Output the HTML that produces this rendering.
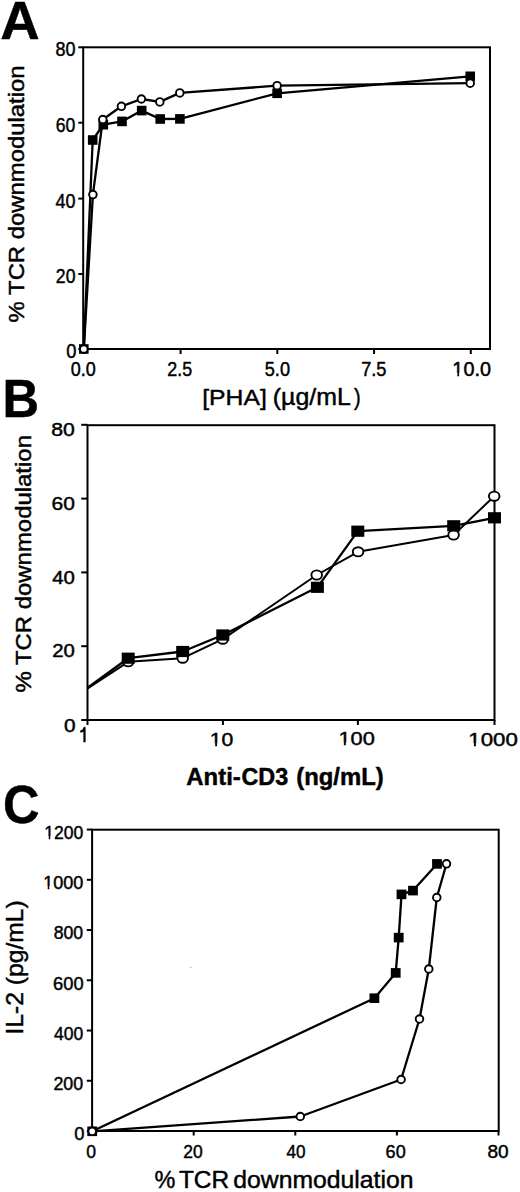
<!DOCTYPE html>
<html><head><meta charset="utf-8"><style>
html,body{margin:0;padding:0;background:#fff;}
body{width:520px;height:1192px;overflow:hidden;}
svg{display:block;}
text{font-family:"Liberation Sans", sans-serif;fill:#000;stroke:#000;stroke-width:0.45px;stroke-linejoin:round;}
</style></head><body>
<svg width="520" height="1192" viewBox="0 0 520 1192" stroke="#000" stroke-linecap="butt">
<rect x="0" y="0" width="520" height="1192" fill="#fff" stroke="none"/>
<rect x="83.20" y="47.30" width="406.80" height="301.70" fill="none" stroke-width="2.0"/>
<line x1="78.30" y1="349.00" x2="83.20" y2="349.00" stroke-width="2.0"/>
<line x1="78.30" y1="274.00" x2="83.20" y2="274.00" stroke-width="2.0"/>
<line x1="78.30" y1="198.60" x2="83.20" y2="198.60" stroke-width="2.0"/>
<line x1="78.30" y1="122.70" x2="83.20" y2="122.70" stroke-width="2.0"/>
<line x1="78.30" y1="47.30" x2="83.20" y2="47.30" stroke-width="2.0"/>
<line x1="83.87" y1="349.00" x2="83.87" y2="354.00" stroke-width="2.0"/>
<line x1="180.59" y1="349.00" x2="180.59" y2="354.00" stroke-width="2.0"/>
<line x1="277.32" y1="349.00" x2="277.32" y2="354.00" stroke-width="2.0"/>
<line x1="374.04" y1="349.00" x2="374.04" y2="354.00" stroke-width="2.0"/>
<line x1="470.77" y1="349.00" x2="470.77" y2="354.00" stroke-width="2.0"/>
<polyline points="83.80,349.00 92.70,140.00 103.30,124.70 122.00,121.40 141.70,110.60 160.20,119.00 179.90,118.90 277.10,93.30 470.20,76.30" fill="none" stroke-width="2.3" stroke-linejoin="round"/>
<polyline points="83.80,349.00 92.90,194.60 102.80,119.50 121.40,106.30 141.40,99.00 159.80,101.90 179.80,92.90 277.10,85.70 470.20,83.20" fill="none" stroke-width="2.3" stroke-linejoin="round"/>
<rect x="79.00" y="344.20" width="9.60" height="9.60" fill="#000" stroke="none"/>
<rect x="87.90" y="135.20" width="9.60" height="9.60" fill="#000" stroke="none"/>
<rect x="98.50" y="119.90" width="9.60" height="9.60" fill="#000" stroke="none"/>
<rect x="117.20" y="116.60" width="9.60" height="9.60" fill="#000" stroke="none"/>
<rect x="136.90" y="105.80" width="9.60" height="9.60" fill="#000" stroke="none"/>
<rect x="155.40" y="114.20" width="9.60" height="9.60" fill="#000" stroke="none"/>
<rect x="175.10" y="114.10" width="9.60" height="9.60" fill="#000" stroke="none"/>
<rect x="272.30" y="88.50" width="9.60" height="9.60" fill="#000" stroke="none"/>
<rect x="465.40" y="71.50" width="9.60" height="9.60" fill="#000" stroke="none"/>
<ellipse cx="83.80" cy="349.00" rx="3.80" ry="3.80" fill="#fff" stroke-width="1.9"/>
<ellipse cx="92.90" cy="194.60" rx="3.80" ry="3.80" fill="#fff" stroke-width="1.9"/>
<ellipse cx="102.80" cy="119.50" rx="3.80" ry="3.80" fill="#fff" stroke-width="1.9"/>
<ellipse cx="121.40" cy="106.30" rx="3.80" ry="3.80" fill="#fff" stroke-width="1.9"/>
<ellipse cx="141.40" cy="99.00" rx="3.80" ry="3.80" fill="#fff" stroke-width="1.9"/>
<ellipse cx="159.80" cy="101.90" rx="3.80" ry="3.80" fill="#fff" stroke-width="1.9"/>
<ellipse cx="179.80" cy="92.90" rx="3.80" ry="3.80" fill="#fff" stroke-width="1.9"/>
<ellipse cx="277.10" cy="85.70" rx="3.80" ry="3.80" fill="#fff" stroke-width="1.9"/>
<ellipse cx="470.20" cy="83.20" rx="3.80" ry="3.80" fill="#fff" stroke-width="1.9"/>
<rect x="87.50" y="425.20" width="407.00" height="294.80" fill="none" stroke-width="2.0"/>
<line x1="81.20" y1="720.00" x2="87.50" y2="720.00" stroke-width="2.0"/>
<line x1="81.20" y1="646.20" x2="87.50" y2="646.20" stroke-width="2.0"/>
<line x1="81.20" y1="572.40" x2="87.50" y2="572.40" stroke-width="2.0"/>
<line x1="81.20" y1="498.60" x2="87.50" y2="498.60" stroke-width="2.0"/>
<line x1="81.20" y1="424.80" x2="87.50" y2="424.80" stroke-width="2.0"/>
<line x1="87.50" y1="720.00" x2="87.50" y2="725.00" stroke-width="2.0"/>
<line x1="222.90" y1="720.00" x2="222.90" y2="725.00" stroke-width="2.0"/>
<line x1="357.90" y1="720.00" x2="357.90" y2="725.00" stroke-width="2.0"/>
<line x1="494.50" y1="720.00" x2="494.50" y2="725.00" stroke-width="2.0"/>
<polyline points="87.30,688.00 128.20,658.20 182.70,651.50 222.80,635.00 317.40,587.30 357.80,531.20 453.70,525.80 494.50,517.80" fill="none" stroke-width="2.3" stroke-linejoin="round"/>
<polyline points="87.30,688.60 128.20,661.80 182.70,658.20 222.80,639.20 316.70,575.00 358.10,551.80 453.60,535.00 494.20,496.20" fill="none" stroke-width="2.0" stroke-linejoin="round"/>
<ellipse cx="128.20" cy="661.80" rx="5.30" ry="4.60" fill="#fff" stroke-width="1.9"/>
<ellipse cx="182.70" cy="658.20" rx="5.30" ry="4.60" fill="#fff" stroke-width="1.9"/>
<ellipse cx="222.80" cy="639.20" rx="5.30" ry="4.60" fill="#fff" stroke-width="1.9"/>
<ellipse cx="316.70" cy="575.00" rx="5.30" ry="4.60" fill="#fff" stroke-width="1.9"/>
<ellipse cx="358.10" cy="551.80" rx="5.30" ry="4.60" fill="#fff" stroke-width="1.9"/>
<ellipse cx="453.60" cy="535.00" rx="5.30" ry="4.60" fill="#fff" stroke-width="1.9"/>
<ellipse cx="494.20" cy="496.20" rx="5.30" ry="4.60" fill="#fff" stroke-width="1.9"/>
<rect x="121.70" y="652.60" width="13.00" height="11.20" fill="#000" stroke="none"/>
<rect x="176.20" y="645.90" width="13.00" height="11.20" fill="#000" stroke="none"/>
<rect x="216.30" y="629.40" width="13.00" height="11.20" fill="#000" stroke="none"/>
<rect x="310.90" y="581.70" width="13.00" height="11.20" fill="#000" stroke="none"/>
<rect x="351.30" y="525.60" width="13.00" height="11.20" fill="#000" stroke="none"/>
<rect x="447.20" y="520.20" width="13.00" height="11.20" fill="#000" stroke="none"/>
<rect x="488.00" y="512.20" width="13.00" height="11.20" fill="#000" stroke="none"/>
<path d="M80.3,731.6 C82.4,731.3 84.0,730.1 84.5,727.9 L84.5,742.3" fill="none" stroke-width="2.2" stroke-linejoin="round"/>
<rect x="92.10" y="829.70" width="406.60" height="301.30" fill="none" stroke-width="2.0"/>
<line x1="86.80" y1="1131.00" x2="92.10" y2="1131.00" stroke-width="2.0"/>
<line x1="86.80" y1="1080.76" x2="92.10" y2="1080.76" stroke-width="2.0"/>
<line x1="86.80" y1="1030.52" x2="92.10" y2="1030.52" stroke-width="2.0"/>
<line x1="86.80" y1="980.28" x2="92.10" y2="980.28" stroke-width="2.0"/>
<line x1="86.80" y1="930.04" x2="92.10" y2="930.04" stroke-width="2.0"/>
<line x1="86.80" y1="879.80" x2="92.10" y2="879.80" stroke-width="2.0"/>
<line x1="86.80" y1="829.56" x2="92.10" y2="829.56" stroke-width="2.0"/>
<line x1="92.10" y1="1131.00" x2="92.10" y2="1135.50" stroke-width="2.0"/>
<line x1="193.70" y1="1131.00" x2="193.70" y2="1135.50" stroke-width="2.0"/>
<line x1="295.30" y1="1131.00" x2="295.30" y2="1135.50" stroke-width="2.0"/>
<line x1="396.90" y1="1131.00" x2="396.90" y2="1135.50" stroke-width="2.0"/>
<line x1="498.50" y1="1131.00" x2="498.50" y2="1135.50" stroke-width="2.0"/>
<polyline points="92.20,1131.30 374.40,998.20 395.70,972.90 398.70,937.60 401.50,894.40 413.00,890.60 437.00,863.90" fill="none" stroke-width="2.3" stroke-linejoin="round"/>
<polyline points="92.20,1131.30 300.30,1116.50 401.10,1079.50 419.50,1019.00 428.80,969.00 436.80,897.50 446.50,863.80" fill="none" stroke-width="2.3" stroke-linejoin="round"/>
<rect x="87.30" y="1126.50" width="9.80" height="9.60" fill="#000" stroke="none"/>
<rect x="369.50" y="993.40" width="9.80" height="9.60" fill="#000" stroke="none"/>
<rect x="390.80" y="968.10" width="9.80" height="9.60" fill="#000" stroke="none"/>
<rect x="393.80" y="932.80" width="9.80" height="9.60" fill="#000" stroke="none"/>
<rect x="396.60" y="889.60" width="9.80" height="9.60" fill="#000" stroke="none"/>
<rect x="408.10" y="885.80" width="9.80" height="9.60" fill="#000" stroke="none"/>
<rect x="432.10" y="859.10" width="9.80" height="9.60" fill="#000" stroke="none"/>
<ellipse cx="92.20" cy="1131.30" rx="3.80" ry="3.80" fill="#fff" stroke-width="1.9"/>
<ellipse cx="300.30" cy="1116.50" rx="3.80" ry="3.80" fill="#fff" stroke-width="1.9"/>
<ellipse cx="401.10" cy="1079.50" rx="3.80" ry="3.80" fill="#fff" stroke-width="1.9"/>
<ellipse cx="419.50" cy="1019.00" rx="3.80" ry="3.80" fill="#fff" stroke-width="1.9"/>
<ellipse cx="428.80" cy="969.00" rx="3.80" ry="3.80" fill="#fff" stroke-width="1.9"/>
<ellipse cx="436.80" cy="897.50" rx="3.80" ry="3.80" fill="#fff" stroke-width="1.9"/>
<ellipse cx="446.50" cy="863.80" rx="3.80" ry="3.80" fill="#fff" stroke-width="1.9"/>
<g transform="translate(55.46,56.00) scale(0.9220,1)"><text font-size="19.5">80</text></g>
<g transform="translate(55.67,131.80) scale(0.9024,1)"><text font-size="19.5">60</text></g>
<g transform="translate(55.52,207.60) scale(0.9190,1)"><text font-size="19.5">40</text></g>
<g transform="translate(55.87,283.00) scale(0.9024,1)"><text font-size="19.5">20</text></g>
<g transform="translate(66.13,358.40) scale(0.9385,1)"><text font-size="19.5">0</text></g>
<g transform="translate(70.69,375.50) scale(0.9231,1)"><text font-size="19.5">0.0</text></g>
<g transform="translate(167.36,375.50) scale(0.9165,1)"><text font-size="19.5">2.5</text></g>
<g transform="translate(264.78,375.50) scale(0.9308,1)"><text font-size="19.5">5.0</text></g>
<g transform="translate(361.15,375.50) scale(0.9320,1)"><text font-size="19.5">7.5</text></g>
<g transform="translate(452.37,375.50) scale(1.0154,1)"><text font-size="19.5">10.0</text><rect x="0.15" y="-2.46" width="4.75" height="3.96" fill="#fff" stroke="none"/><rect x="6.63" y="-2.46" width="4.46" height="3.96" fill="#fff" stroke="none"/></g>
<g transform="translate(202.24,404.60) scale(1.0751,1)"><text font-size="23">[PHA]</text></g>
<g transform="translate(272.80,404.60) scale(1.0833,1)"><text font-size="23">(µg/mL</text></g>
<g transform="translate(354.10,404.60) scale(0.8692,1)"><text font-size="23">)</text></g>
<g transform="translate(24.20,322.38) rotate(-90) scale(1.0620,1)"><text font-size="22.5">% TCR downmodulation</text></g>
<g transform="translate(0.26,39.40) scale(1.0294,1)"><text font-size="53" font-weight="bold">A</text></g>
<g transform="translate(51.26,435.80) scale(1.1789,1)"><text font-size="18">80</text></g>
<g transform="translate(51.47,510.00) scale(1.1680,1)"><text font-size="18">60</text></g>
<g transform="translate(52.17,583.60) scale(1.1325,1)"><text font-size="18">40</text></g>
<g transform="translate(52.20,657.40) scale(1.1307,1)"><text font-size="18">20</text></g>
<g transform="translate(64.07,731.60) scale(1.1556,1)"><text font-size="18">0</text></g>
<g transform="translate(209.83,745.80) scale(1.1459,1)"><text font-size="18.5">10</text><rect x="0.10" y="-2.38" width="4.55" height="3.88" fill="#fff" stroke="none"/><rect x="6.29" y="-2.38" width="4.27" height="3.88" fill="#fff" stroke="none"/></g>
<g transform="translate(338.38,745.00) scale(1.1791,1)"><text font-size="18.5">100</text><rect x="0.10" y="-2.38" width="4.55" height="3.88" fill="#fff" stroke="none"/><rect x="6.29" y="-2.38" width="4.27" height="3.88" fill="#fff" stroke="none"/></g>
<g transform="translate(468.35,745.60) scale(1.2025,1)"><text font-size="18.5">1000</text><rect x="0.10" y="-2.38" width="4.55" height="3.88" fill="#fff" stroke="none"/><rect x="6.29" y="-2.38" width="4.27" height="3.88" fill="#fff" stroke="none"/></g>
<g transform="translate(186.25,784.90) scale(0.9981,1)"><text font-size="24" font-weight="bold">Anti-</text></g>
<g transform="translate(241.42,784.90) scale(0.9733,1)"><text font-size="24" font-weight="bold">CD3</text></g>
<g transform="translate(296.26,784.90) scale(0.9942,1)"><text font-size="24" font-weight="bold">(ng/mL)</text></g>
<g transform="translate(30.90,692.58) rotate(-90) scale(1.0636,1)"><text font-size="22.5">% TCR downmodulation</text></g>
<g transform="translate(2.44,416.50) scale(0.9557,1)"><text font-size="53" font-weight="bold">B</text></g>
<g transform="translate(44.29,838.60) scale(0.9737,1)"><text font-size="18">1200</text><rect x="0.08" y="-2.34" width="4.45" height="3.84" fill="#fff" stroke="none"/><rect x="6.12" y="-2.34" width="4.17" height="3.84" fill="#fff" stroke="none"/></g>
<g transform="translate(43.15,888.70) scale(1.0000,1)"><text font-size="18">1000</text><rect x="0.08" y="-2.34" width="4.45" height="3.84" fill="#fff" stroke="none"/><rect x="6.12" y="-2.34" width="4.17" height="3.84" fill="#fff" stroke="none"/></g>
<g transform="translate(53.66,939.20) scale(0.9828,1)"><text font-size="18">800</text></g>
<g transform="translate(53.09,990.10) scale(1.0157,1)"><text font-size="18">600</text></g>
<g transform="translate(53.91,1039.60) scale(0.9744,1)"><text font-size="18">400</text></g>
<g transform="translate(53.41,1089.80) scale(0.9913,1)"><text font-size="18">200</text></g>
<g transform="translate(74.34,1140.20) scale(1.0222,1)"><text font-size="18">0</text></g>
<g transform="translate(86.16,1157.50) scale(0.9778,1)"><text font-size="18">0</text></g>
<g transform="translate(183.22,1157.50) scale(0.9707,1)"><text font-size="18">20</text></g>
<g transform="translate(286.61,1157.50) scale(0.9506,1)"><text font-size="18">40</text></g>
<g transform="translate(385.60,1157.50) scale(1.0027,1)"><text font-size="18">60</text></g>
<g transform="translate(487.52,1157.50) scale(1.0579,1)"><text font-size="18">80</text></g>
<g transform="translate(154.42,1188.10) scale(0.9750,1)"><text font-size="24">%</text></g>
<g transform="translate(178.89,1188.10) scale(1.0218,1)"><text font-size="24">TCR</text></g>
<g transform="translate(233.28,1188.10) scale(1.0315,1)"><text font-size="24">downmodulation</text></g>
<g transform="translate(22.90,1034.40) rotate(-90) scale(1.0259,1)"><text font-size="24">IL-2 (pg/mL)</text></g>
<g transform="translate(3.04,823.30) scale(0.9543,1)"><text font-size="53" font-weight="bold">C</text></g>
<circle cx="190.8" cy="967.5" r="0.8" fill="#aaa" stroke="none"/>
</svg>
</body></html>
